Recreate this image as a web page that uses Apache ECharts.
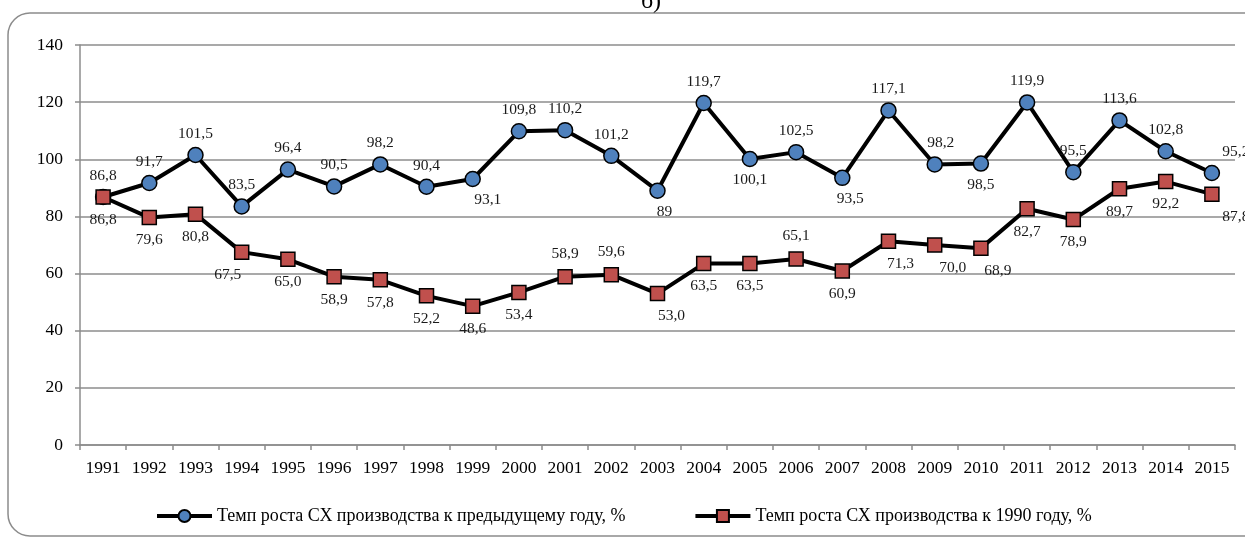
<!DOCTYPE html>
<html>
<head>
<meta charset="utf-8">
<script src="https://cdn.jsdelivr.net/npm/echarts@6/dist/echarts.min.js"></script>
<style>
html,body{margin:0;padding:0;background:#fff;}
#c{width:1245px;height:539px;}
</style>
</head>
<body>
<div id="c"></div>
<script>
const years = ['1991','1992','1993','1994','1995','1996','1997','1998','1999','2000','2001','2002','2003','2004','2005','2006','2007','2008','2009','2010','2011','2012','2013','2014','2015'];
const prevYear = [86.8, 91.7, 101.5, 83.5, 96.4, 90.5, 98.2, 90.4, 93.1, 109.8, 110.2, 101.2, 89, 119.7, 100.1, 102.5, 93.5, 117.1, 98.2, 98.5, 119.9, 95.5, 113.6, 102.8, 95.2];
const to1990 = [86.8, 79.6, 80.8, 67.5, 65.0, 58.9, 57.8, 52.2, 48.6, 53.4, 58.9, 59.6, 53.0, 63.5, 63.5, 65.1, 60.9, 71.3, 70.0, 68.9, 82.7, 78.9, 89.7, 92.2, 87.8];
const seriesNames = ['Темп роста СХ производства к предыдущему году, %', 'Темп роста СХ производства к 1990 году, %'];
const yTicks = {min: 0, max: 140, interval: 20};

// label placement (layout only)
const s1Below = [8, 12, 14, 16, 19];
const s1Shift = {8: 15, 12: 7, 16: 8, 18: 6, 24: 24};
const s2Above = [10, 11, 15];
const s2Shift = {3: -14, 12: 14, 17: 12, 18: 18, 19: 17, 24: 24};

const FONT = '"Liberation Serif", "Times New Roman", serif';

function mkData(vals, flipIdx, defPos, altPos) {
  return vals.map((v, i) => {
    const pos = flipIdx.indexOf(i) >= 0 ? altPos : defPos;
    return {value: v, label: {position: pos}};
  });
}

const chart = echarts.init(document.getElementById('c'), null, {renderer: 'canvas'});
chart.setOption({
  animation: false,
  backgroundColor: '#fff',
  graphic: [
    {type: 'rect', shape: {x: 8, y: 13, width: 1262, height: 523, r: 22}, style: {fill: 'none', stroke: '#8c8c8c', lineWidth: 1.5}, z: -1},
    {type: 'text', x: 651, y: 14, style: {text: 'б)', font: '24px ' + FONT, fill: '#000', textAlign: 'center', textVerticalAlign: 'bottom'}}
  ],
  grid: {left: 80, right: 10, top: 45, bottom: 94, containLabel: false},
  legend: {
    top: 502, left: 150,
    itemWidth: 55, itemHeight: 15, itemGap: 68,
    lineStyle: {width: 4, color: '#000'},
    textStyle: {fontFamily: FONT, fontSize: 18, color: '#000'},
    data: seriesNames
  },
  xAxis: {
    type: 'category', data: years, boundaryGap: true,
    axisLine: {lineStyle: {color: '#8c8c8c', width: 1.5}},
    axisTick: {show: true, length: 5, alignWithLabel: false, lineStyle: {color: '#8c8c8c', width: 1.5}},
    axisLabel: {fontFamily: FONT, fontSize: 17.5, color: '#000', margin: 14, interval: 0}
  },
  yAxis: {
    type: 'value', min: yTicks.min, max: yTicks.max, interval: yTicks.interval,
    axisLine: {show: true, lineStyle: {color: '#8c8c8c', width: 1.5}},
    axisTick: {show: true, length: 5, lineStyle: {color: '#8c8c8c', width: 1.5}},
    axisLabel: {fontFamily: FONT, fontSize: 17.5, color: '#000', margin: 17},
    splitLine: {lineStyle: {color: '#8c8c8c', width: 1.5}}
  },
  series: [
    {
      name: seriesNames[0], type: 'line',
      data: mkData(prevYear, s1Below, 'top', 'bottom'),
      symbol: 'circle', symbolSize: 15,
      lineStyle: {color: '#000', width: 4},
      itemStyle: {color: '#4F81BD', borderColor: '#000', borderWidth: 1.5},
      label: {show: true, distance: 5, fontFamily: FONT, fontSize: 15.5, color: '#1a1a1a',
        formatter: p => String(p.value).replace('.', ',')},
      labelLayout: p => ({dx: s1Shift[p.dataIndex] || 0, hideOverlap: false}),
      z: 3
    },
    {
      name: seriesNames[1], type: 'line',
      data: mkData(to1990, s2Above, 'bottom', 'top'),
      symbol: 'rect', symbolSize: 14,
      lineStyle: {color: '#000', width: 4},
      itemStyle: {color: '#C0504D', borderColor: '#000', borderWidth: 1.5},
      label: {show: true, distance: 7, fontFamily: FONT, fontSize: 15.5, color: '#1a1a1a',
        formatter: p => Number(p.value).toFixed(1).replace('.', ',')},
      labelLayout: p => ({dx: s2Shift[p.dataIndex] || 0, hideOverlap: false}),
      z: 4
    }
  ]
});
</script>
</body>
</html>
